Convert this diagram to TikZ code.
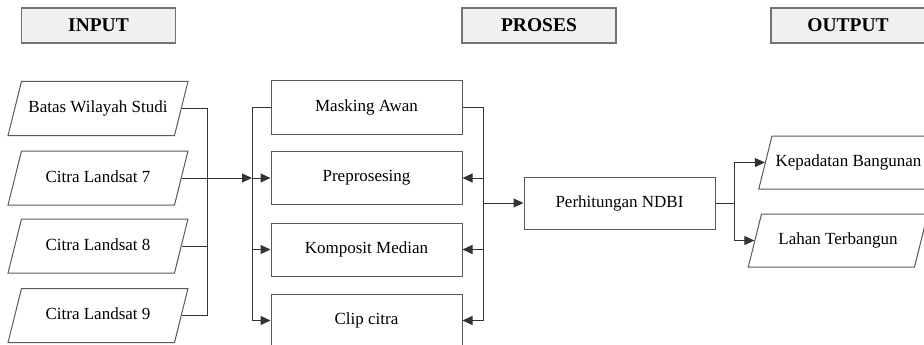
\documentclass[tikz,border=0pt]{standalone}
\usepackage{fontspec}
\setmainfont{Liberation Serif}
\usetikzlibrary{shapes.geometric,arrows.meta}
\begin{document}
\begin{tikzpicture}[x=1pt, y=-1pt, line width=1pt,
    head/.style={draw=black!55, line width=1.5pt, fill=black!6, minimum width=154pt, minimum height=35pt, inner sep=0pt, font=\fontsize{19.5}{22}\selectfont\bfseries},
    io/.style={trapezium, trapezium left angle=76, trapezium right angle=104, draw=black!65, text width=153pt, align=flush center, inner xsep=0pt, text height=12pt, text depth=4pt, inner ysep=19pt, font=\fontsize{17}{20}\selectfont},
    proc/.style={rectangle, draw=black!65, minimum width=191pt, minimum height=53pt, inner sep=0pt, font=\fontsize{17}{20}\selectfont},
    link/.style={draw=black!80},
    arr/.style={link, -{Triangle[length=10pt, width=9pt]}}]
\useasboundingbox (0,0) rectangle (924,345);

\node[head] (input) at (98.5,25.5) {INPUT};
\node[head] (proses) at (539,25.5) {PROSES};
\node[head] (output) at (848,25.5) {OUTPUT};

\node[io] (batas) at (98,108.5) {Batas Wilayah Studi};
\node[io] (ls7) at (98,178) {Citra Landsat 7};
\node[io] (ls8) at (98,246) {Citra Landsat 8};
\node[io] (ls9) at (98,315.5) {Citra Landsat 9};

\node[proc] (mask) at (366.5,107.5) {Masking Awan};
\node[proc] (prep) at (366.5,178) {Preprosesing};
\node[proc] (komp) at (366.5,249.5) {Komposit Median};
\node[proc] (clip) at (366.5,320.5) {Clip citra};

\node[proc, minimum height=52pt] (ndbi) at (619.5,203) {Perhitungan NDBI};

\node[io, inner ysep=18.5pt] (kep) at (848.5,162.5) {Kepadatan Bangunan};
\node[io, inner ysep=18.5pt] (lahan) at (838,240.5) {Lahan Terbangun};

\coordinate (bus1) at (207,178);
\coordinate (bus2) at (252,178);
\coordinate (bus3) at (483,203);
\coordinate (bus4) at (734,203);

\draw[link] (batas.right side) -| (bus1);
\draw[link] (ls8.right side) -| (bus1);
\draw[link] (ls9.right side) -| (bus1);
\draw[arr] (ls7.right side) -- (bus2);

\draw[arr] (mask.west) -- (mask.west -| bus2) |- (clip.west);
\draw[arr] (bus2) -- (prep.west);
\draw[arr] (komp.west -| bus2) -- (komp.west);

\draw[arr] (mask.east) -- (mask.east -| bus3) |- (clip.east);
\draw[arr] (prep.east -| bus3) -- (prep.east);
\draw[arr] (komp.east -| bus3) -- (komp.east);
\draw[arr] (bus3) -- (ndbi.west);

\draw[link] (ndbi.east) -- (bus4);
\draw[arr] (bus4) |- (kep.left side);
\draw[arr] (bus4) |- (lahan.left side);
\end{tikzpicture}
\end{document}
